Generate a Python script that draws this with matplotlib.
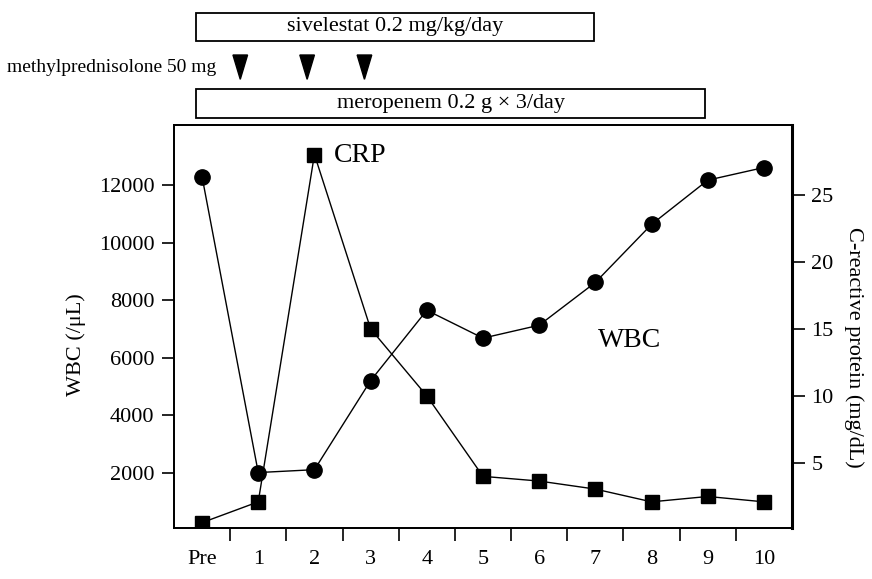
import matplotlib
matplotlib.use("Agg")
import matplotlib.pyplot as plt
from matplotlib.patches import Rectangle, Polygon
from matplotlib.transforms import blended_transform_factory

plt.rcParams['font.family'] = ['Liberation Serif', 'DejaVu Serif']

# days of the course, "Pre" is the day before treatment
day_labels = ["Pre", "1", "2", "3", "4", "5", "6", "7", "8", "9", "10"]
days = list(range(len(day_labels)))

# white blood cell count (/uL)
wbc = [12300, 2000, 2100, 5200, 7650, 6680, 7130, 8620, 10640, 12180, 12620]
# C-reactive protein (mg/dL)
crp = [0.55, 2.1, 28.0, 15.0, 10.0, 4.0, 3.65, 3.05, 2.1, 2.5, 2.1]

# treatments drawn above the chart: (label, start day, end day)
sivelestat = ("sivelestat 0.2 mg/kg/day", -0.1, 6.98)
meropenem = ("meropenem 0.2 g \u00d7 3/day", -0.1, 8.95)
mpsl_label = "methylprednisolone 50 mg"
mpsl_days = [0.68, 1.87, 2.89]

fig = plt.figure(figsize=(8.72, 5.79), dpi=100)
ax = fig.add_axes([0.1995, 0.0881, 0.7088, 0.696])
ax2 = ax.twinx()

# WBC on the left axis
ax.plot(days, wbc, color="black", lw=1.0, marker="o", ms=11, zorder=3)
ax.set_xlim(-0.5, 10.5)
ax.set_ylim(70, 14100)
ax.set_yticks([2000, 4000, 6000, 8000, 10000, 12000])
ax.set_ylabel("WBC (/\u03bcL)", fontsize=16)
ax.yaxis.set_label_coords(-0.143, 0.454)

# CRP on the right axis
ax2.plot(days, crp, color="black", lw=1.0, marker="s", ms=10.5, zorder=3)
ax2.set_ylim(0.15, 30.2)
ax2.set_yticks([5, 10, 15, 20, 25])
ax2.set_ylabel("C-reactive protein (mg/dL)", fontsize=16, rotation=270,
               va="center")
ax2.yaxis.set_label_coords(1.1, 0.449)

# day ticks sit between the days, labels sit on the days
ax.set_xticks([d + 0.5 for d in days[:-1]])
ax.set_xticklabels([])
ax.set_xticks(days, minor=True)
ax.set_xticklabels(day_labels, minor=True)
ax.tick_params(axis="x", which="major", length=9, width=1.2, direction="out")
ax.tick_params(axis="x", which="minor", length=0, pad=16, labelsize=16)
ax.tick_params(axis="y", length=9, width=1.2, labelsize=16, pad=5)
ax2.tick_params(axis="y", length=9, width=1.2, labelsize=16, pad=5)

for a in (ax, ax2):
    for s in a.spines.values():
        s.set_linewidth(1.3)
ax2.spines["right"].set_linewidth(2.2)

ax.text(2.35, 13050, "CRP", fontsize=20, va="center", ha="left")
ax.text(7.05, 6600, "WBC", fontsize=20, va="center", ha="left")

# treatment boxes and markers above the chart
tr = blended_transform_factory(ax.transData, fig.transFigure)
for (label, x0, x1), (y0, y1) in [(sivelestat, (0.9297, 0.978)),
                                   (meropenem, (0.7957, 0.8458))]:
    fig.add_artist(Rectangle((x0, y0), x1 - x0, y1 - y0, transform=tr,
                             fill=False, edgecolor="black", lw=1.3))
    fig.text((x0 + x1) / 2, (y0 + y1) / 2, label, transform=tr,
             ha="center", va="center", fontsize=16)

for d in mpsl_days:
    fig.add_artist(Polygon([(d - 0.13, 0.905), (d + 0.13, 0.905), (d, 0.863)],
                           closed=True, transform=tr, color="black"))
fig.text(0.26, 0.884, mpsl_label, transform=tr, ha="right", va="center",
         fontsize=14)

fig.savefig("out.png", dpi=100)
